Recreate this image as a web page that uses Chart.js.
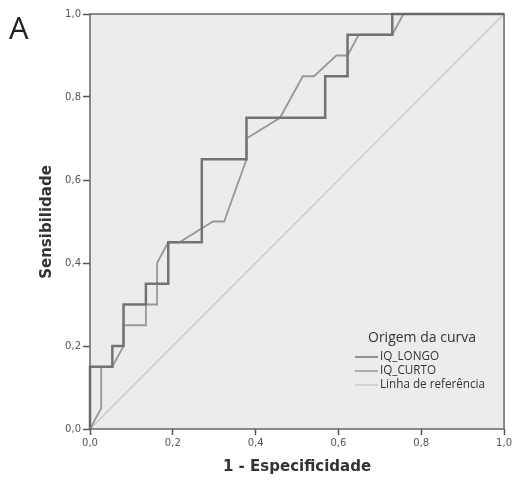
<!DOCTYPE html>
<html>
<head>
<meta charset="utf-8">
<script src="https://cdn.jsdelivr.net/npm/chart.js@4/dist/chart.umd.min.js"></script>
<style>
  html, body { margin: 0; padding: 0; background: #fff; }
  #wrap { width: 514px; height: 481px; }
</style>
</head>
<body>
<div id="wrap"><canvas id="roc"></canvas></div>
<script>
// ROC curve points (1 - especificidade, sensibilidade)
const longoX = [0, 0, 0.054, 0.054, 0.081, 0.081, 0.135, 0.135, 0.189, 0.189, 0.270, 0.270, 0.378, 0.378, 0.568, 0.568, 0.622, 0.622, 0.730, 0.730, 1];
const longoY = [0, 0.15, 0.15, 0.20, 0.20, 0.30, 0.30, 0.35, 0.35, 0.45, 0.45, 0.65, 0.65, 0.75, 0.75, 0.85, 0.85, 0.95, 0.95, 1, 1];
const curtoX = [0, 0.027, 0.027, 0.054, 0.081, 0.081, 0.135, 0.135, 0.162, 0.162, 0.189, 0.216, 0.297, 0.324, 0.378, 0.378, 0.459, 0.514, 0.541, 0.595, 0.622, 0.649, 0.730, 0.757, 1];
const curtoY = [0, 0.05, 0.15, 0.15, 0.20, 0.25, 0.25, 0.30, 0.30, 0.40, 0.45, 0.45, 0.50, 0.50, 0.65, 0.70, 0.75, 0.85, 0.85, 0.90, 0.90, 0.95, 0.95, 1, 1];
const refX = [0, 1];
const refY = [0, 1];
const tickValues = [0, 0.2, 0.4, 0.6, 0.8, 1.0];
const seriesLabels = ['IQ_LONGO', 'IQ_CURTO', 'Linha de referência'];

const toPoints = (xs, ys) => xs.map((x, i) => ({x: x, y: ys[i]}));
const fmt = v => v.toFixed(1).replace('.', ',');

// background + frame + letter + y title + legend
const decor = {
  id: 'decor',
  beforeDraw(chart){
    const {ctx, chartArea: a} = chart;
    ctx.save();
    ctx.fillStyle = '#ececec';
    ctx.fillRect(a.left, a.top, a.right - a.left, a.bottom - a.top);
    ctx.restore();
  },
  afterDraw(chart){
    const {ctx, chartArea: a} = chart;
    ctx.save();
    ctx.strokeStyle = '#666';
    ctx.lineWidth = 1.5;
    ctx.strokeRect(a.left, a.top, a.right - a.left, a.bottom - a.top);

    ctx.fillStyle = '#222';
    ctx.font = '31px "Open Sans"';
    ctx.textBaseline = 'alphabetic';
    ctx.textAlign = 'left';
    ctx.fillText('A', 9, 39);

    ctx.translate(47, 222);
    ctx.rotate(-Math.PI / 2);
    ctx.fillStyle = '#333';
    ctx.font = 'bold 15px "DejaVu Sans"';
    ctx.textAlign = 'center';
    ctx.textBaseline = 'middle';
    ctx.fillText('Sensibilidade', 0, 0);
    ctx.restore();

    // legend
    ctx.save();
    ctx.fillStyle = '#333';
    ctx.font = '14px "Open Sans"';
    ctx.textAlign = 'center';
    ctx.textBaseline = 'middle';
    ctx.fillText('Origem da curva', 422, 338);
    ctx.font = '11.7px "Open Sans"';
    ctx.textAlign = 'left';
    chart.data.datasets.forEach((ds, i) => {
      const y = 357 + i * 14;
      ctx.strokeStyle = ds.borderColor;
      ctx.lineWidth = 1.5;
      ctx.beginPath();
      ctx.moveTo(355, y);
      ctx.lineTo(378, y);
      ctx.stroke();
      ctx.fillText(ds.label, 380, y);
    });
    ctx.restore();
  }
};

new Chart(document.getElementById('roc'), {
  type: 'scatter',
  data: {
    datasets: [
      {label: seriesLabels[0], data: toPoints(longoX, longoY), showLine: true, borderColor: '#737373', borderWidth: 2.5, pointRadius: 0, clip: 3},
      {label: seriesLabels[1], data: toPoints(curtoX, curtoY), showLine: true, borderColor: '#999', borderWidth: 1.8, pointRadius: 0, clip: 3},
      {label: seriesLabels[2], data: toPoints(refX, refY), showLine: true, borderColor: '#c8c8c8', borderWidth: 1.2, pointRadius: 0, clip: 3}
    ]
  },
  options: {
    responsive: true,
    maintainAspectRatio: false,
    animation: false,
    layout: {padding: {left: 0, right: 8, top: 14, bottom: 0}},
    plugins: {legend: {display: false}, tooltip: {enabled: false}},
    scales: {
      x: {
        type: 'linear', min: 0, max: 1,
        afterFit: s => { s.height = 52; },
        afterBuildTicks: s => { s.ticks = tickValues.map(v => ({value: v})); },
        grid: {drawOnChartArea: false, tickLength: 6, color: '#555', tickWidth: 1.5},
        border: {display: false},
        ticks: {callback: v => fmt(v), color: '#555', font: {family: 'DejaVu Sans', size: 10}, padding: 2, maxRotation: 0},
        title: {display: true, text: '1 - Especificidade', color: '#333', font: {family: 'DejaVu Sans', size: 15, weight: 'bold'}, padding: {top: 0, bottom: 5}}
      },
      y: {
        type: 'linear', min: 0, max: 1,
        afterFit: s => { s.width = 90; },
        afterBuildTicks: s => { s.ticks = tickValues.map(v => ({value: v})); },
        grid: {drawOnChartArea: false, tickLength: 7, color: '#555', tickWidth: 1.5},
        border: {display: false},
        ticks: {callback: v => fmt(v), color: '#555', font: {family: 'DejaVu Sans', size: 10}, padding: 2}
      }
    }
  },
  plugins: [decor]
});
</script>
</body>
</html>
